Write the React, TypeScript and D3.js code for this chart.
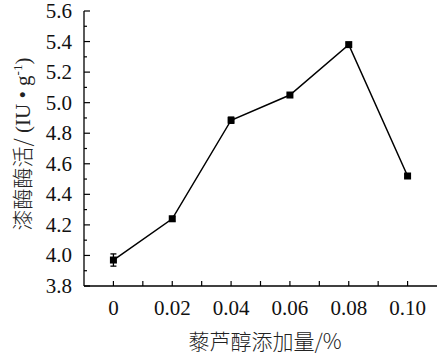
import React from "react";
import * as d3 from "d3";

const xValues = [0, 0.02, 0.04, 0.06, 0.08, 0.1];
const yValues = [3.97, 4.24, 4.885, 5.05, 5.38, 4.52];
const yErrors = [0.04, 0.015, 0.02, 0.01, 0.01, 0.01];
const xTickLabels = ["0", "0.02", "0.04", "0.06", "0.08", "0.10"];
const yTickLabels = ["3.8", "4.0", "4.2", "4.4", "4.6", "4.8", "5.0", "5.2", "5.4", "5.6"];

const W = 439;
const H = 358;
const serif = "Liberation Serif, Times New Roman, DejaVu Serif, serif";
const cjk = "Noto Sans CJK SC, sans-serif";

export default function App() {
  const x = d3.scaleLinear().domain([-0.01, 0.11]).range([84, 437]);
  const y = d3.scaleLinear().domain([3.8, 5.6]).range([286, 11]);
  const line = d3
    .line<number>()
    .x((_, i) => x(xValues[i]))
    .y((d) => y(d));

  const yMajor = yTickLabels.map((t) => +t);
  const yMinor = d3.range(9).map((i) => 3.9 + i * 0.2);
  const xTicks = d3.range(11).map((i) => i * 0.01);

  return (
    <svg
      width={W}
      height={H}
      style={{ position: "absolute", left: 0, top: 0, background: "#fff" }}
    >
      <rect width={W} height={H} fill="#fff" />
      <line x1={x(-0.01)} x2={x(-0.01)} y1={y(5.6)} y2={y(3.8)} stroke="#000" strokeWidth={1.3} />
      <line x1={x(-0.01)} x2={x(0.11)} y1={y(3.8)} y2={y(3.8)} stroke="#000" strokeWidth={1.3} />
      {yMajor.map((v, i) => (
        <g key={"ym" + i}>
          <line x1={x(-0.01)} x2={x(-0.01) + 6} y1={y(v)} y2={y(v)} stroke="#000" strokeWidth={1.2} />
          <text
            x={72}
            y={y(v) + 7}
            textAnchor="end"
            style={{ fontFamily: serif, fontSize: 21 }}
            fill="#111"
          >
            {yTickLabels[i]}
          </text>
        </g>
      ))}
      {yMinor.map((v, i) => (
        <line key={"yn" + i} x1={x(-0.01)} x2={x(-0.01) + 3} y1={y(v)} y2={y(v)} stroke="#000" strokeWidth={1.2} />
      ))}
      {xTicks.map((v, i) => (
        <line key={"xt" + i} x1={x(v)} x2={x(v)} y1={y(3.8)} y2={y(3.8) - 5} stroke="#000" strokeWidth={1.2} />
      ))}
      {xValues.map((v, i) => (
        <text
          key={"xl" + i}
          x={x(v)}
          y={315}
          textAnchor="middle"
          style={{ fontFamily: serif, fontSize: 21 }}
          fill="#111"
        >
          {xTickLabels[i]}
        </text>
      ))}
      <text
        x={265}
        y={349}
        textAnchor="middle"
        style={{ fontFamily: cjk, fontSize: 21, fontWeight: 300 }}
        fill="#222"
      >
        藜芦醇添加量/%
      </text>
      <text
        transform={`translate(30, 144) rotate(-90)`}
        textAnchor="middle"
        style={{ fontFamily: cjk, fontSize: 21, fontWeight: 300 }}
        fill="#222"
      >
        漆酶酶活/
        <tspan style={{ fontFamily: serif }}> (IU • g</tspan>
        <tspan style={{ fontFamily: serif, fontSize: 13 }} dy={-8}>-1</tspan>
        <tspan style={{ fontFamily: serif }} dy={8}>)</tspan>
      </text>
      <path d={line(yValues) || ""} fill="none" stroke="#000" strokeWidth={1.5} />
      {yValues.map((v, i) => {
        const cx = x(xValues[i]);
        const e = yErrors[i];
        return (
          <g key={"p" + i}>
            <line x1={cx} x2={cx} y1={y(v + e)} y2={y(v - e)} stroke="#000" strokeWidth={1.3} />
            <line x1={cx - 3} x2={cx + 3} y1={y(v + e)} y2={y(v + e)} stroke="#000" strokeWidth={1.3} />
            <line x1={cx - 3} x2={cx + 3} y1={y(v - e)} y2={y(v - e)} stroke="#000" strokeWidth={1.3} />
            <rect x={cx - 3.5} y={y(v) - 3.5} width={7} height={7} fill="#000" />
          </g>
        );
      })}
    </svg>
  );
}
